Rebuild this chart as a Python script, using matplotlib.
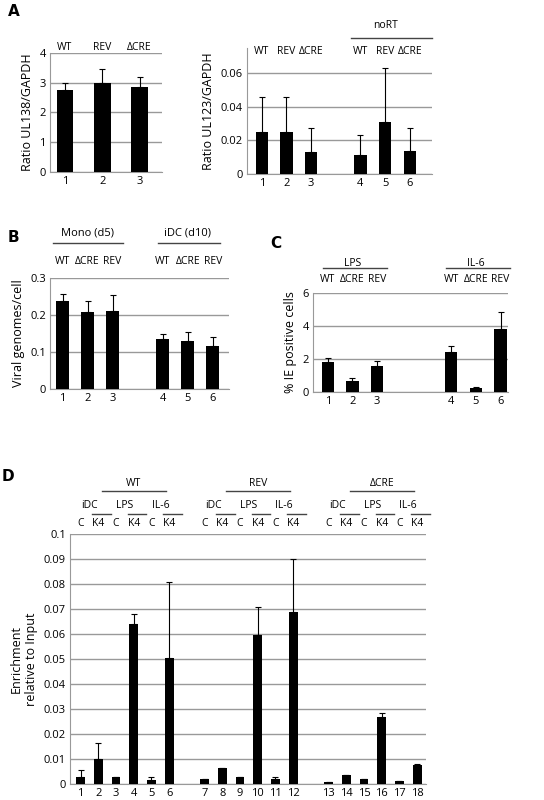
import numpy as np
import matplotlib.pyplot as plt
from matplotlib.transforms import blended_transform_factory as blend

W, H = 544, 800

# Panel A left
a1_pos = [0, 1, 2]
a1_val = [2.75, 2.98, 2.87]
a1_top = [3.0, 3.45, 3.2]
a1_lab = ["WT", "REV", "\u0394CRE"]
# Panel A right
a2_pos = [0, 1, 2, 4, 5, 6]
a2_val = [0.025, 0.025, 0.013, 0.0115, 0.031, 0.0135]
a2_top = [0.046, 0.046, 0.0275, 0.0235, 0.063, 0.0275]
a2_lab = ["WT", "REV", "\u0394CRE", "WT", "REV", "\u0394CRE"]
# Panel B
b_pos = [0, 1, 2, 4, 5, 6]
b_val = [0.237, 0.208, 0.212, 0.135, 0.13, 0.115]
b_top = [0.258, 0.237, 0.253, 0.15, 0.155, 0.14]
b_lab = ["WT", "\u0394CRE", "REV", "WT", "\u0394CRE", "REV"]
# Panel C
c_pos = [0, 1, 2, 5, 6, 7]
c_val = [1.8, 0.65, 1.55, 2.45, 0.25, 3.8]
c_top = [2.05, 0.85, 1.9, 2.8, 0.3, 4.85]
c_lab = ["WT", "\u0394CRE", "REV", "WT", "\u0394CRE", "REV"]
# Panel D
d_pos = [0, 1, 2, 3, 4, 5, 7, 8, 9, 10, 11, 12, 14, 15, 16, 17, 18, 19]
d_val = [0.003, 0.010, 0.0028, 0.064, 0.0015, 0.0505,
         0.0022, 0.0063, 0.0028, 0.0595, 0.002, 0.069,
         0.001, 0.0035, 0.0022, 0.027, 0.0012, 0.0075]
d_top = [0.0055, 0.0165, 0.0028, 0.068, 0.0027, 0.081,
         0.0022, 0.0063, 0.0028, 0.071, 0.0027, 0.090,
         0.001, 0.0035, 0.0022, 0.0283, 0.0012, 0.008]
d_ck = ["C", "K4"] * 9
d_treat = ["iDC", "LPS", "IL-6"] * 3
d_virus = ["WT", "REV", "\u0394CRE"]

plt.rcParams['font.family'] = ['Open Sans', 'DejaVu Sans']
fig = plt.figure(figsize=(W / 100, H / 100), dpi=100)


def make_ax(l, t, r, b):
    return fig.add_axes([l / W, 1 - b / H, (r - l) / W, (b - t) / H])


def bars(ax, pos, val, top, width, xlim, ylim, yticks, fmt):
    val = np.array(val)
    err = np.array(top) - val
    ax.bar(pos, val, width, color="black", zorder=3)
    ax.errorbar(pos, val, yerr=[np.zeros_like(err), err], fmt="none",
                ecolor="black", elinewidth=0.8, capsize=2.5, capthick=0.8, zorder=4)
    ax.set_xlim(*xlim)
    ax.set_ylim(*ylim)
    ax.set_yticks(yticks)
    ax.set_yticklabels([fmt(v) for v in yticks], fontsize=8)
    ax.set_xticks(pos)
    ax.set_xticklabels([str(i + 1) for i in range(len(pos))], fontsize=8)
    ax.tick_params(length=0, pad=3)
    ax.grid(axis="y", color="#999999", lw=1, zorder=0)
    for s in ["top", "right"]:
        ax.spines[s].set_visible(False)
    for s in ["left", "bottom"]:
        ax.spines[s].set_color("#999999")
    ax.set_facecolor("none")


def labels(ax, xs, texts, ypix, size=7.5):
    tr = blend(ax.transData, fig.transFigure)
    for x, t in zip(xs, texts):
        ax.text(x, 1 - ypix / H, t, transform=tr, ha="center", va="center", fontsize=size)


def hline(ax, x0, x1, ypix):
    tr = blend(ax.transData, fig.transFigure)
    ax.plot([x0, x1], [1 - ypix / H] * 2, transform=tr, color="#444444", lw=1, clip_on=False)


def letter(x, y, t):
    fig.text(x / W, 1 - y / H, t, fontsize=11, fontweight="bold", ha="left", va="center",
             family="DejaVu Sans")


# A left
ax = make_ax(50, 53, 162, 172)
bars(ax, a1_pos, a1_val, a1_top, 0.45, (-0.4, 2.6), (0, 4), [0, 1, 2, 3, 4], lambda v: f"{v:g}")
labels(ax, a1_pos, a1_lab, 47)
ax.set_ylabel("Ratio UL138/GAPDH", fontsize=9)

# A right
ax = make_ax(247, 48, 432, 174)
bars(ax, a2_pos, a2_val, a2_top, 0.5, (-0.6, 6.9), (0, 0.075), [0, 0.02, 0.04, 0.06],
     lambda v: "0" if v == 0 else f"{v:.2f}")
labels(ax, a2_pos, a2_lab, 52)
hline(ax, 3.6, 6.9, 38)
labels(ax, [5.0], ["noRT"], 25)
ax.set_ylabel("Ratio UL123/GAPDH", fontsize=9)

# B
ax = make_ax(50, 278, 229, 389)
bars(ax, b_pos, b_val, b_top, 0.5, (-0.5, 6.65), (0, 0.3), [0, 0.1, 0.2, 0.3],
     lambda v: "0" if v == 0 else f"{v:.1f}")
labels(ax, b_pos, b_lab, 262)
hline(ax, -0.4, 2.4, 243)
hline(ax, 3.8, 6.3, 243)
labels(ax, [1.0, 5.0], ["Mono (d5)", "iDC (d10)"], 233, size=8)
ax.set_ylabel("Viral genomes/cell", fontsize=9)

# C
ax = make_ax(313, 293, 508, 392)
bars(ax, c_pos, c_val, c_top, 0.5, (-0.6, 7.3), (0, 6), [0, 2, 4, 6], lambda v: f"{v:g}")
labels(ax, c_pos, c_lab, 279)
hline(ax, -0.2, 2.4, 268)
hline(ax, 4.8, 7.4, 268)
labels(ax, [1.0, 6.0], ["LPS", "IL-6"], 263)
ax.set_ylabel("% IE positive cells", fontsize=9)

# D
ax = make_ax(70, 534, 426, 784)
bars(ax, d_pos, d_val, d_top, 0.5, (-0.6, 19.5), (0, 0.1), np.round(np.arange(0, 0.101, 0.01), 2),
     lambda v: "0" if v == 0 else f"{v:g}")
labels(ax, d_pos, d_ck, 523)
tpos = [(d_pos[i] + d_pos[i + 1]) / 2 for i in range(0, 18, 2)]
labels(ax, tpos, d_treat, 505)
for i in range(0, 18, 2):
    hline(ax, d_pos[i + 1] - 0.35, d_pos[i + 1] + 0.7, 514)
vpos = [(d_pos[i] + d_pos[i + 5]) / 2 + 0.5 for i in range(0, 18, 6)]
labels(ax, vpos, d_virus, 483)
for v in vpos:
    hline(ax, v - 1.8, v + 1.8, 491)
ax.set_ylabel("Enrichment\nrelative to Input", fontsize=9)

letter(8, 12, "A")
letter(8, 238, "B")
letter(270, 243, "C")
letter(2, 477, "D")

fig.savefig("out.png", dpi=100)
